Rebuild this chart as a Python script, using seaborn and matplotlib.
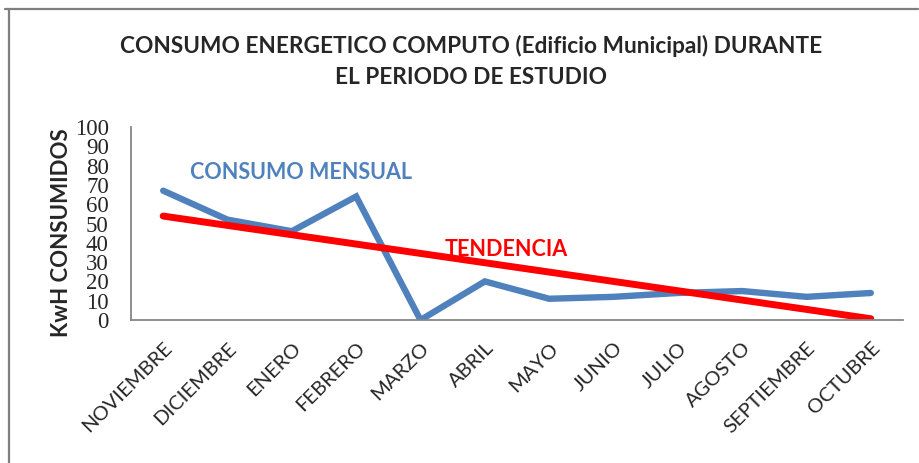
import numpy as np
import pandas as pd
import matplotlib
matplotlib.use("Agg")
import matplotlib.pyplot as plt
from matplotlib.lines import Line2D
import seaborn as sns

meses = ["NOVIEMBRE", "DICIEMBRE", "ENERO", "FEBRERO", "MARZO", "ABRIL",
         "MAYO", "JUNIO", "JULIO", "AGOSTO", "SEPTIEMBRE", "OCTUBRE"]
consumo = [67, 52, 46, 64, 0, 20, 11, 12, 14, 15, 12, 14]
y_ticks = [0, 10, 20, 30, 40, 50, 60, 70, 80, 90, 100]

sns.set_theme(style="white")
plt.rcParams['font.family'] = ['Lato', 'DejaVu Sans']

df = pd.DataFrame({"idx": np.arange(len(meses)), "mes": meses, "kwh": consumo})

fig = plt.figure(figsize=(9.19, 4.63), dpi=100)
ax = fig.add_axes([131/919, 1-320/463, (903-131)/919, (320-127)/463])

sns.lineplot(data=df, x="idx", y="kwh", ax=ax, color="#4F81BD", linewidth=4.6,
             solid_joinstyle="miter")
sns.regplot(data=df, x="idx", y="kwh", ax=ax, scatter=False, ci=None, truncate=True,
            line_kws=dict(color="#FF0000", linewidth=5))

ax.set_xlim(-0.5, len(meses) - 0.5)
ax.set_ylim(0, 100)
ax.set_yticks(y_ticks)
ax.set_yticklabels([str(v) for v in y_ticks], family="Liberation Serif", fontsize=16.5)
ax.set_xticks(df["idx"])
ax.set_xticklabels(meses, rotation=45, ha="right", rotation_mode="anchor", fontsize=14.5)
ax.tick_params(axis="x", length=0, pad=14)
ax.tick_params(axis="y", length=0, pad=16)
for s in ["top", "right"]:
    ax.spines[s].set_visible(False)
for s in ["left", "bottom"]:
    ax.spines[s].set_color("#868686")
    ax.spines[s].set_linewidth(1.3)
ax.set_xlabel("")
ax.set_ylabel("KwH CONSUMIDOS", fontsize=16, fontweight="bold")
ax.yaxis.set_label_coords(-0.077, 0.455)

ax.text(0.42, 76.5, "CONSUMO MENSUAL", color="#4F81BD", fontsize=15.5, fontweight="bold",
        va="center", ha="left")
ax.text(4.38, 36.3, "TENDENCIA", color="#FF0000", fontsize=15.5, fontweight="bold",
        va="center", ha="left")

fig.text(471/919, 1-46/463, "CONSUMO ENERGETICO COMPUTO (Edificio Municipal) DURANTE",
         ha="center", va="center", fontsize=16.3, fontweight="bold")
fig.text(471/919, 1-78/463, "EL PERIODO DE ESTUDIO",
         ha="center", va="center", fontsize=16.3, fontweight="bold")

fig.add_artist(Line2D([5/919, 918/919], [1-9/463, 1-9/463], color="#7F7F7F", linewidth=1.6,
                      transform=fig.transFigure))
fig.add_artist(Line2D([9/919, 9/919], [0, 1-9/463], color="#7F7F7F", linewidth=1.6,
                      transform=fig.transFigure))

fig.savefig("out.png", dpi=100)
